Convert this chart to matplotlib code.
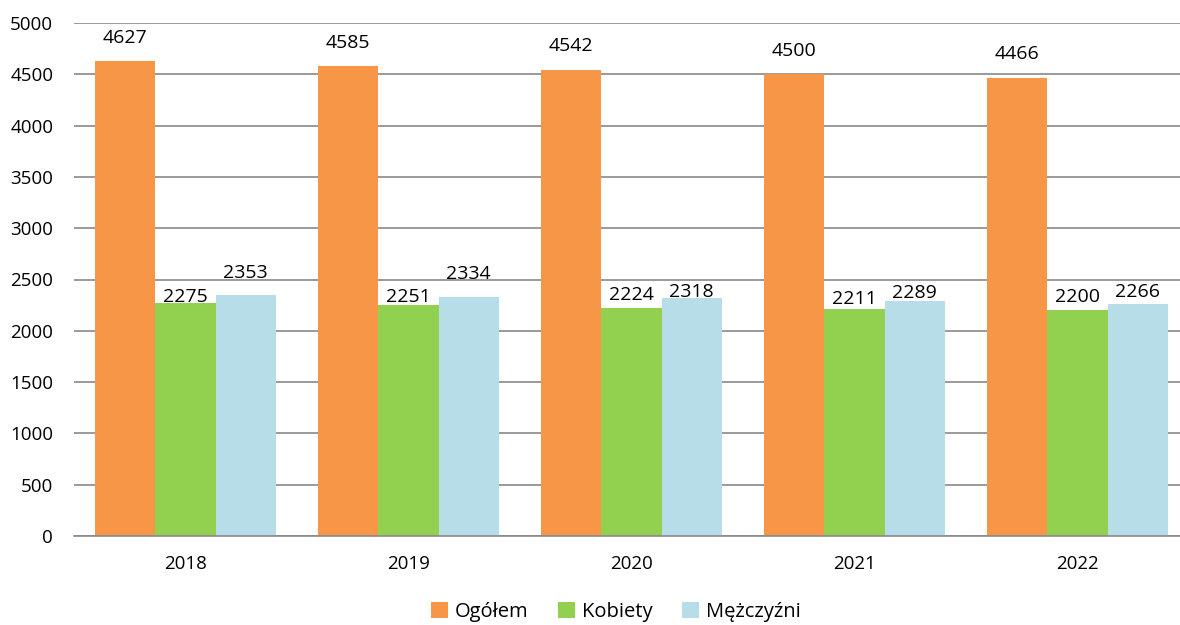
import matplotlib.pyplot as plt
import numpy as np

years = ["2018", "2019", "2020", "2021", "2022"]
ogolem = [4627, 4585, 4542, 4500, 4466]
kobiety = [2275, 2251, 2224, 2211, 2200]
mezczyzni = [2353, 2334, 2318, 2289, 2266]

series = [("Ogółem", ogolem, "#F79646"),
          ("Kobiety", kobiety, "#92D050"),
          ("Mężczyźni", mezczyzni, "#B7DDE8")]

# label gap above each bar (pixels), labels were nudged by hand in the original
label_gaps = [[18, 18, 19, 18, 19],
              [1, 3, 8, 5, 8],
              [17, 18, 1, 3, 7]]

plt.rcParams["font.family"] = ["Open Sans", "DejaVu Sans"]

fig = plt.figure(figsize=(11.8, 6.25), dpi=100)
ax = fig.add_axes([74 / 1180, 89 / 625, 1106 / 1180, 513 / 625])

x = np.arange(len(years))
w = 0.27
for i, (name, vals, color) in enumerate(series):
    pos = x + (i - 1) * w
    ax.bar(pos, vals, width=w, color=color, label=name, zorder=2)
    for p, v, g in zip(pos, vals, label_gaps[i]):
        ax.annotate(str(v), (p, v), xytext=(0, g * 0.72), textcoords="offset points",
                    ha="center", va="baseline", fontsize=14, zorder=3)

ax.set_xlim(-0.5, -0.5 + 1106 / 223)
ax.set_ylim(0, 5000)
ax.set_yticks(range(0, 5001, 500))
ax.set_xticks(x)
ax.set_xticklabels(years)
ax.tick_params(axis="y", length=0, labelsize=13.5, pad=15)
ax.tick_params(axis="x", length=0, labelsize=13.5, pad=14)
ax.grid(axis="y", color="#898989", linewidth=1.2, zorder=0)
for s in ["top", "right", "left"]:
    ax.spines[s].set_visible(False)
ax.spines["bottom"].set_color("#898989")
ax.spines["bottom"].set_linewidth(1.2)

ax.legend(loc="center", bbox_to_anchor=(0.49, -0.148), ncol=3, frameon=False,
          fontsize=14.5, handlelength=0.8, handleheight=0.8, handletextpad=0.35,
          columnspacing=1.5, borderaxespad=0, borderpad=0)

fig.savefig("out.png", dpi=100)
